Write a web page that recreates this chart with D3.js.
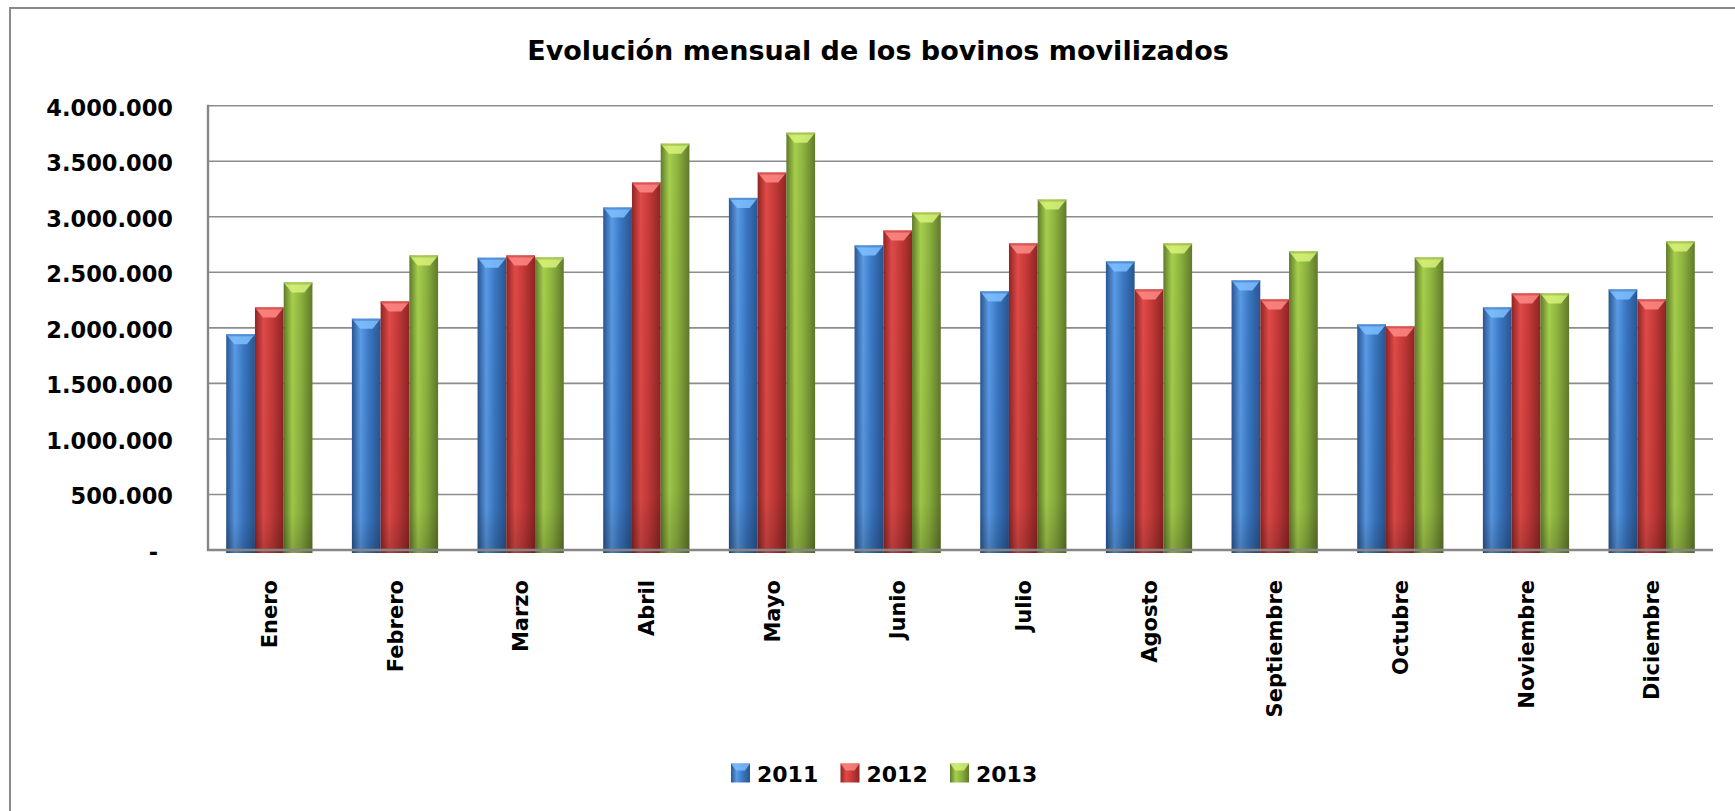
<!DOCTYPE html>
<html>
<head>
<meta charset="utf-8">
<script src="https://cdn.jsdelivr.net/npm/d3@7"></script>
<style>
  html, body { margin: 0; padding: 0; background: #ffffff; }
  svg { display: block; }
  text { font-family: "DejaVu Sans", "Liberation Sans", sans-serif; font-weight: bold; fill: #000; }
</style>
</head>
<body>
<svg id="chart" width="1735" height="811"></svg>
<script>
// ---- data ----
const months = ["Enero","Febrero","Marzo","Abril","Mayo","Junio","Julio","Agosto","Septiembre","Octubre","Noviembre","Diciembre"];
const years = ["2011","2012","2013"];
const values2011 = [1942000, 2082000, 2631000, 3083000, 3170000, 2742000, 2328000, 2598000, 2427000, 2031000, 2184000, 2346000];
const values2012 = [2184000, 2238000, 2652000, 3308000, 3398000, 2876000, 2760000, 2346000, 2256000, 2013000, 2310000, 2256000];
const values2013 = [2409000, 2652000, 2634000, 3658000, 3757000, 3038000, 3155000, 2760000, 2688000, 2634000, 2310000, 2778000];
const yTicks = [0, 500000, 1000000, 1500000, 2000000, 2500000, 3000000, 3500000, 4000000];
const yTickLabels = ["-", "500.000", "1.000.000", "1.500.000", "2.000.000", "2.500.000", "3.000.000", "3.500.000", "4.000.000"];
const title = "Evolución mensual de los bovinos movilizados";

const seriesValues = [values2011, values2012, values2013];
const palette = {
  "2011": { light: "#5a9be6", mid: "#3a78c4", dark: "#2a5590", cap: "#7fc0ff" },
  "2012": { light: "#e04a48", mid: "#c43a38", dark: "#8e2524", cap: "#ff8a86" },
  "2013": { light: "#a6cf4c", mid: "#8db23f", dark: "#5f7a2a", cap: "#d8f27a" }
};

const svg = d3.select("#chart");
const defs = svg.append("defs");
years.forEach(y => {
  const c = palette[y];
  const g = defs.append("linearGradient").attr("id", "grad" + y)
    .attr("x1", "0%").attr("x2", "100%").attr("y1", "0%").attr("y2", "0%");
  g.append("stop").attr("offset", "0%").attr("stop-color", c.dark);
  g.append("stop").attr("offset", "30%").attr("stop-color", c.light);
  g.append("stop").attr("offset", "60%").attr("stop-color", c.mid);
  g.append("stop").attr("offset", "100%").attr("stop-color", c.dark);
  const gv = defs.append("linearGradient").attr("id", "shade" + y)
    .attr("x1", "0%").attr("x2", "0%").attr("y1", "0%").attr("y2", "100%");
  gv.append("stop").attr("offset", "0%").attr("stop-color", "#000").attr("stop-opacity", 0);
  gv.append("stop").attr("offset", "85%").attr("stop-color", "#000").attr("stop-opacity", 0.05);
  gv.append("stop").attr("offset", "100%").attr("stop-color", "#000").attr("stop-opacity", 0.2);
});

// frame (left and top visible)
svg.append("path")
  .attr("d", "M10,811 L10,8 L1735,8")
  .attr("fill", "none").attr("stroke", "#8a8a8a").attr("stroke-width", 2);

// title
svg.append("text")
  .attr("x", 878).attr("y", 60)
  .attr("text-anchor", "middle")
  .attr("font-size", 27)
  .text(title);

// scales
const plotLeft = 208, plotRight = 1713, plotTop = 105.7, plotBottom = 550;
const x0 = d3.scaleBand().domain(months).range([plotLeft, plotRight]).paddingInner(0.314).paddingOuter(0.145);
const x1 = d3.scaleBand().domain(years).range([0, x0.bandwidth()]).padding(0);
const y = d3.scaleLinear().domain([0, 4000000]).range([plotBottom, plotTop]);

// gridlines
svg.append("g").selectAll("line").data(yTicks.filter(t => t > 0)).join("line")
  .attr("x1", plotLeft).attr("x2", plotRight)
  .attr("y1", d => y(d)).attr("y2", d => y(d))
  .attr("stroke", "#8c8c8c").attr("stroke-width", 1.6);

// y labels
svg.append("g").selectAll("text").data(yTicks).join("text")
  .attr("x", (d, i) => d === 0 ? 158 : 173)
  .attr("y", d => y(d) + 2)
  .attr("dy", "0.35em")
  .attr("text-anchor", "end")
  .attr("font-size", 22.5)
  .text((d, i) => yTickLabels[i]);

// bars
const data = [];
months.forEach((m, i) => years.forEach((yr, j) => data.push({ month: m, year: yr, value: seriesValues[j][i] })));

const bars = svg.append("g").selectAll("g").data(data).join("g")
  .attr("transform", d => `translate(${x0(d.month) + x1(d.year)},0)`);
bars.append("rect")
  .attr("x", 0).attr("width", x1.bandwidth())
  .attr("y", d => y(d.value)).attr("height", d => y(0) - y(d.value) + 3)
  .attr("fill", d => `url(#grad${d.year})`);
bars.append("rect")
  .attr("x", 0).attr("width", x1.bandwidth())
  .attr("y", d => y(d.value)).attr("height", d => y(0) - y(d.value) + 3)
  .attr("fill", d => `url(#shade${d.year})`);
// bevel cap on top
bars.append("path")
  .attr("d", d => {
    const w = x1.bandwidth(), t = y(d.value);
    return `M0,${t} L${w},${t} L${w * 0.72},${t + 10} L${w * 0.28},${t + 10} Z`;
  })
  .attr("fill", d => palette[d.year].cap)
  .attr("opacity", 0.85);
bars.append("path")
  .attr("d", d => {
    const w = x1.bandwidth(), t = y(d.value);
    return `M0,${t} L${w},${t} L${w},${t + 2} L0,${t + 2} Z`;
  })
  .attr("fill", d => palette[d.year].mid)
  .attr("opacity", 0.6);

// axes lines
svg.append("line").attr("x1", plotLeft).attr("x2", plotLeft).attr("y1", plotTop - 1).attr("y2", plotBottom + 1)
  .attr("stroke", "#868686").attr("stroke-width", 2.4);
svg.append("line").attr("x1", plotLeft - 1).attr("x2", plotRight).attr("y1", plotBottom).attr("y2", plotBottom)
  .attr("stroke", "#868686").attr("stroke-width", 2.6);

// x labels
svg.append("g").selectAll("text").data(months).join("text")
  .attr("transform", d => `translate(${x0(d) + x0.bandwidth() / 2},580) rotate(-90)`)
  .attr("text-anchor", "end")
  .attr("dy", "0.36em")
  .attr("font-size", 21)
  .text(d => d);

// legend
const legendX = d3.scalePoint().domain(years).range([731, 950]);
const leg = svg.append("g").selectAll("g").data(years).join("g")
  .attr("transform", d => `translate(${legendX(d)},763.5)`);
leg.append("rect").attr("width", 19).attr("height", 19).attr("fill", d => `url(#grad${d})`);
leg.append("path").attr("d", "M0,0 L19,0 L14,7 L5,7 Z").attr("fill", d => palette[d].cap).attr("opacity", 0.8);
leg.append("text").attr("x", 26).attr("y", 18.5).attr("font-size", 22).text(d => d);
</script>
</body>
</html>
